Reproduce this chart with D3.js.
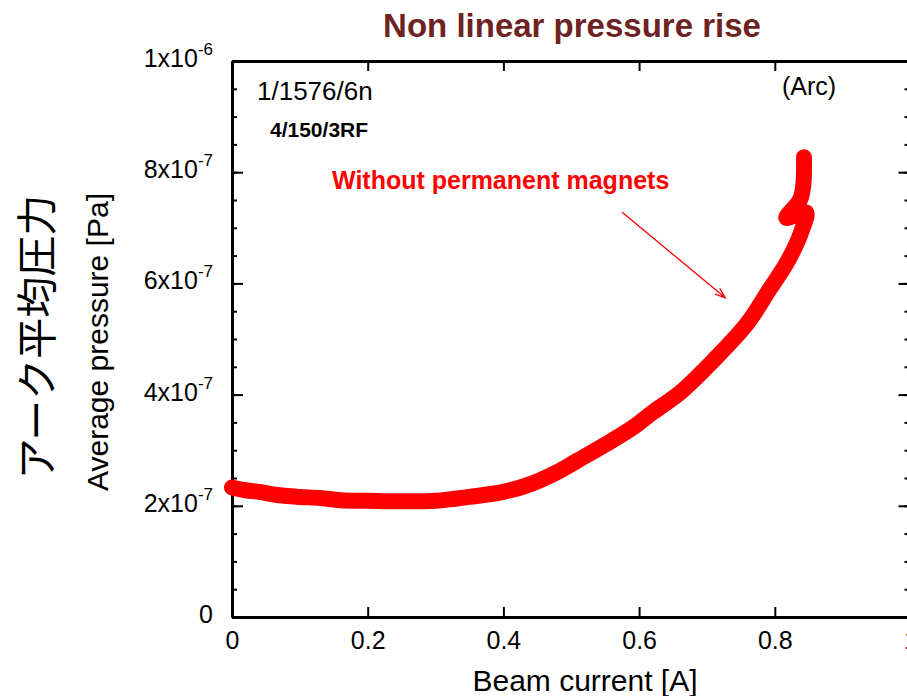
<!DOCTYPE html>
<html>
<head>
<meta charset="utf-8">
<script src="https://cdn.jsdelivr.net/npm/d3@7"></script>
<style>
  body { margin: 0; background: #fff; }
  svg { display: block; font-family: "Liberation Sans", Arial, sans-serif; }
</style>
</head>
<body>
<svg id="chart" width="907" height="696"></svg>
<script>
// beam current [A] and average pressure [Pa]
const beamCurrent = [0, 0.02, 0.04, 0.07, 0.10, 0.13, 0.16, 0.20, 0.25, 0.30, 0.35, 0.40, 0.44, 0.48, 0.51,
  0.55, 0.59, 0.62, 0.66, 0.71, 0.76, 0.79, 0.82, 0.84, 0.846, 0.817, 0.837, 0.842, 0.843]
const avgPressure = [2.33, 2.28, 2.25, 2.19, 2.16, 2.14, 2.10, 2.09, 2.08, 2.09, 2.16, 2.25, 2.39, 2.61, 2.82,
  3.10, 3.40, 3.68, 4.03, 4.62, 5.29, 5.85, 6.42, 6.96, 7.28, 7.18, 7.50, 7.77, 8.27].map(d => d * 1e-7)

const xTicks = [0, 0.2, 0.4, 0.6, 0.8, 1]
const xTickLabels = ["0", "0.2", "0.4", "0.6", "0.8", "1"]
const yTicks = [0, 2e-7, 4e-7, 6e-7, 8e-7, 1e-6]
const yTickBase = ["0", "2x10", "4x10", "6x10", "8x10", "1x10"]
const yTickExp = ["", "-7", "-7", "-7", "-7", "-6"]
const yMinorTicks = d3.range(0, 21).map(i => i * 5e-8)

// arrow for the series note, in data units
const arrowFrom = [0.575, 7.28e-7]
const arrowTo = [0.727, 5.74e-7]

const svg = d3.select("#chart")
const margin = { top: 61, left: 232, bottom: 79 }
const height = 696
const plotRight = 910.5

const x = d3.scaleLinear().domain([0, 1]).range([margin.left, plotRight])
const y = d3.scaleLinear().domain([0, 1e-6]).range([height - margin.bottom, margin.top])

// axes: ticks point inward on all four sides
const styleAxis = (g) => {
  g.select(".domain").attr("stroke", "#000").attr("stroke-width", 3)
  g.selectAll(".tick line").attr("stroke", "#000").attr("stroke-width", 2)
}

svg.append("g")
  .attr("transform", `translate(0,${y(0)})`)
  .call(d3.axisBottom(x).tickValues(xTicks).tickSize(-10).tickSizeOuter(0).tickPadding(14)
    .tickFormat((d, i) => xTickLabels[i]))
  .call(styleAxis)
  .call(g => g.selectAll(".tick text")
    .attr("font-size", 25).attr("font-family", "Liberation Sans, Arial, sans-serif").attr("fill", "#000"))

svg.append("g")
  .attr("transform", `translate(0,${y(1e-6)})`)
  .call(d3.axisTop(x).tickValues(xTicks).tickSize(-10).tickSizeOuter(0).tickFormat(""))
  .call(styleAxis)

svg.append("g")
  .attr("transform", `translate(${x(0)},0)`)
  .call(d3.axisLeft(y).tickValues(yMinorTicks).tickSize(-5).tickSizeOuter(0).tickFormat(""))
  .call(styleAxis)
svg.append("g")
  .attr("transform", `translate(${x(0)},0)`)
  .call(d3.axisLeft(y).tickValues(yTicks).tickSize(-11).tickSizeOuter(0).tickFormat(""))
  .call(styleAxis)

svg.append("g")
  .attr("transform", `translate(${x(1)},0)`)
  .call(d3.axisRight(y).tickValues(yMinorTicks).tickSize(-6).tickSizeOuter(0).tickFormat(""))
  .call(styleAxis)
svg.append("g")
  .attr("transform", `translate(${x(1)},0)`)
  .call(d3.axisRight(y).tickValues(yTicks).tickSize(-12).tickSizeOuter(0).tickFormat(""))
  .call(styleAxis)

// y tick labels with superscript exponents
const yLab = svg.append("g").selectAll("text").data(yTicks).join("text")
  .attr("x", 213)
  .attr("y", d => y(d) + 6)
  .attr("text-anchor", "end")
  .attr("font-size", 25)
  .attr("fill", "#000")
yLab.append("tspan").text((d, i) => yTickBase[i])
yLab.append("tspan").attr("dy", -12).attr("font-size", 17).text((d, i) => yTickExp[i])

// the trace
const line = d3.line().curve(d3.curveCatmullRom.alpha(0.5)).x(d => x(d[0])).y(d => y(d[1]))
svg.append("path")
  .datum(d3.zip(beamCurrent, avgPressure))
  .attr("d", line)
  .attr("fill", "none")
  .attr("stroke", "#ff0000")
  .attr("stroke-width", 16)
  .attr("stroke-linejoin", "round")
  .attr("stroke-linecap", "round")

// annotation arrow
const ax0 = x(arrowFrom[0]), ay0 = y(arrowFrom[1]), ax1 = x(arrowTo[0]), ay1 = y(arrowTo[1])
const ang = Math.atan2(ay1 - ay0, ax1 - ax0)
const head = 11, spread = 0.35
svg.append("path")
  .attr("d", `M${ax0},${ay0}L${ax1},${ay1}` +
    `M${ax1 - head * Math.cos(ang - spread)},${ay1 - head * Math.sin(ang - spread)}L${ax1},${ay1}` +
    `L${ax1 - head * Math.cos(ang + spread)},${ay1 - head * Math.sin(ang + spread)}`)
  .attr("fill", "none")
  .attr("stroke", "#ff0000")
  .attr("stroke-width", 1.3)

// notes inside the plot
svg.append("text").attr("x", 257).attr("y", 100).attr("font-size", 26).text("1/1576/6n")
svg.append("text").attr("x", 270).attr("y", 137).attr("font-size", 21).attr("font-weight", "bold").text("4/150/3RF")
svg.append("text").attr("x", 782).attr("y", 95).attr("font-size", 25).text("(Arc)")
svg.append("text").attr("x", 332).attr("y", 189).attr("font-size", 25).attr("font-weight", "bold")
  .attr("fill", "#ff0000")
  .text("Without permanent magnets")

// titles
svg.append("text").attr("x", 572).attr("y", 37).attr("text-anchor", "middle")
  .attr("font-size", 33).attr("font-weight", "bold").attr("fill", "#6e2323")
  .text("Non linear pressure rise")

svg.append("text").attr("x", 585).attr("y", 691).attr("text-anchor", "middle")
  .attr("font-size", 30).text("Beam current [A]")

svg.append("text").attr("transform", "translate(108,342) rotate(-90)").attr("text-anchor", "middle")
  .attr("font-size", 30).text("Average pressure [Pa]")

svg.append("text").attr("transform", "translate(52,337) rotate(-90)").attr("text-anchor", "middle")
  .attr("font-size", 41).attr("font-family", "'Noto Sans CJK JP', sans-serif")
  .text("アーク平均圧力")
</script>
</body>
</html>
